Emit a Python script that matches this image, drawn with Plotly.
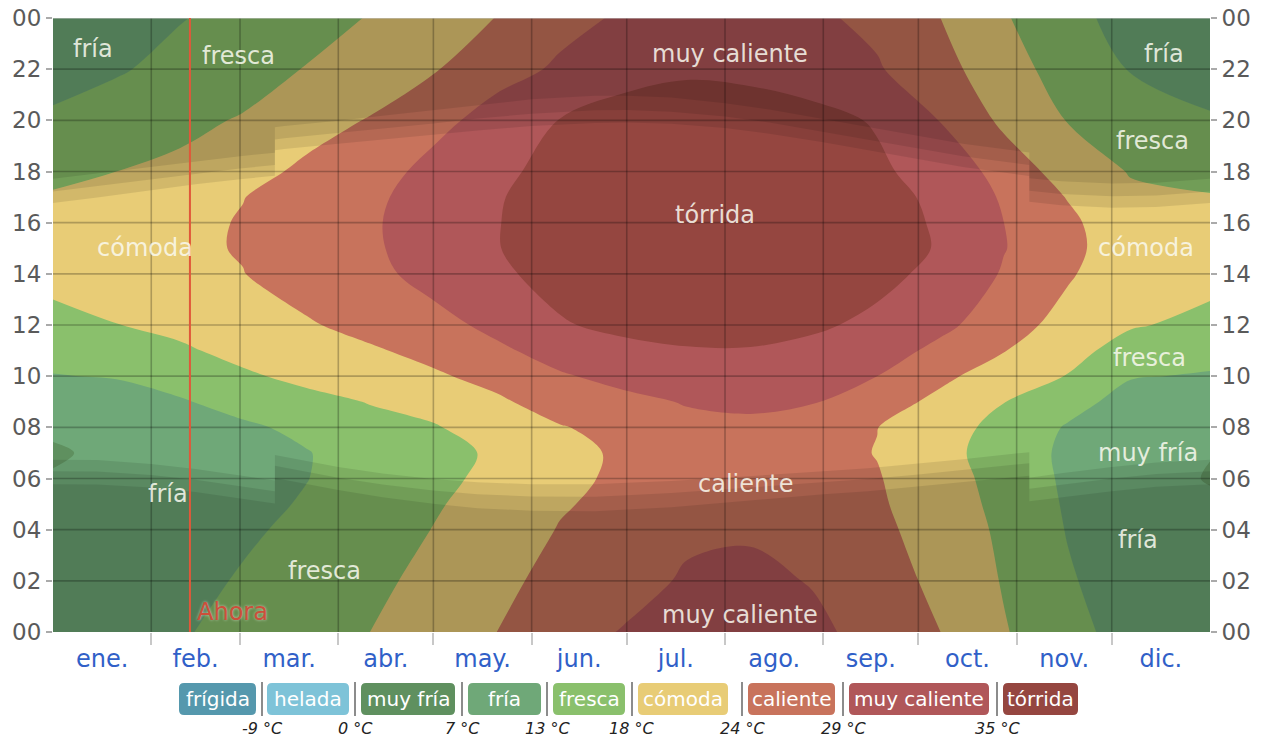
import plotly.graph_objects as go

# ---------------- data ----------------
DAYS = [0, 20, 40, 60, 80, 100, 120, 140, 160, 180, 200, 220, 240, 260, 280, 300, 320, 340, 365]
HOURS = [0, 2, 4, 5, 6, 7, 8, 9, 10, 11, 12, 14, 15, 16, 17, 18, 20, 22, 24]

# temperature (°C) per day column, one value per entry of HOURS
T_D000 = [10.2, 9.0, 8.0, 7.6, 7.2, 6.7, 7.4, 10.0, 12.8, 14.7, 16.5, 19.5, 20.4, 20.2, 18.6, 16.5, 13.5, 11.8, 10.2]
T_D020 = [11.0, 9.8, 8.8, 8.3, 7.9, 7.6, 8.4, 10.9, 13.3, 15.6, 17.9, 20.8, 21.6, 21.4, 20.0, 18.0, 15.0, 12.6, 11.2]
T_D040 = [12.7, 11.3, 10.1, 9.5, 9.0, 8.6, 9.6, 12.6, 14.8, 17.3, 19.2, 22.3, 23.1, 22.8, 21.6, 19.0, 16.8, 14.2, 12.8]
T_D060 = [14.0, 13.5, 12.2, 11.7, 11.2, 10.9, 12.3, 14.6, 17.3, 19.4, 21.4, 23.9, 24.3, 24.3, 23.9, 22.2, 18.4, 15.8, 14.2]
T_D080 = [16.4, 15.3, 14.2, 13.4, 12.9, 12.8, 14.0, 16.6, 19.2, 21.5, 23.5, 26.3, 27.1, 26.9, 26.2, 25.0, 22.0, 18.2, 16.5]
T_D100 = [18.0, 17.0, 16.0, 15.5, 15.1, 15.0, 16.6, 18.2, 20.8, 23.4, 25.6, 27.6, 28.1, 28.3, 27.9, 27.0, 24.3, 21.0, 18.2]
T_D120 = [20.6, 19.2, 18.1, 17.6, 17.2, 17.1, 17.6, 19.8, 23.3, 25.5, 27.3, 30.8, 31.8, 31.8, 31.4, 30.4, 27.6, 23.6, 21.8]
T_D140 = [24.0, 22.4, 20.8, 19.6, 18.8, 18.4, 20.4, 23.2, 25.6, 28.1, 30.3, 34.0, 34.8, 34.8, 34.6, 33.8, 30.8, 27.4, 24.1]
T_D160 = [27.6, 26.0, 24.3, 23.5, 22.8, 22.6, 23.7, 26.3, 28.5, 31.0, 34.5, 37.0, 37.6, 37.6, 37.4, 36.8, 35.2, 29.6, 27.8]
T_D180 = [29.2, 27.7, 26.2, 25.5, 24.9, 24.7, 25.6, 27.8, 30.4, 33.4, 36.4, 38.5, 39.2, 39.2, 39.0, 38.4, 36.8, 33.4, 29.5]
T_D200 = [30.6, 29.4, 28.4, 27.4, 26.8, 26.6, 27.8, 29.3, 32.0, 34.6, 37.0, 39.6, 40.4, 40.4, 40.2, 39.6, 38.0, 34.2, 30.8]
T_D220 = [30.8, 29.8, 28.6, 27.8, 27.2, 27.0, 27.9, 30.0, 32.3, 34.7, 36.9, 39.4, 40.1, 40.0, 39.8, 39.2, 37.4, 33.8, 30.9]
T_D240 = [29.7, 28.8, 27.6, 26.9, 26.3, 26.1, 27.0, 29.2, 31.4, 33.6, 35.8, 38.4, 39.1, 39.0, 38.7, 38.0, 36.4, 32.6, 29.7]
T_D260 = [27.8, 26.6, 25.4, 24.8, 24.4, 23.8, 24.1, 26.6, 29.0, 31.4, 33.8, 36.5, 37.2, 37.0, 36.6, 35.8, 34.6, 29.4, 28.0]
T_D280 = [24.0, 22.6, 21.3, 20.6, 20.0, 19.4, 19.9, 22.6, 25.2, 27.7, 30.2, 33.6, 34.6, 34.4, 34.0, 33.0, 28.8, 26.0, 24.0]
T_D300 = [18.4, 17.6, 17.0, 16.6, 16.3, 16.0, 16.6, 18.1, 21.2, 24.2, 26.2, 28.5, 29.2, 29.0, 28.3, 26.8, 23.0, 20.4, 18.5]
T_D320 = [14.0, 13.5, 12.8, 12.5, 12.2, 12.0, 12.6, 14.8, 17.8, 20.0, 22.2, 24.6, 25.3, 25.0, 23.8, 22.0, 17.8, 15.6, 14.0]
T_D340 = [11.8, 10.6, 9.5, 9.0, 8.5, 8.1, 8.8, 11.2, 13.3, 15.6, 18.5, 20.6, 21.1, 20.8, 19.2, 17.6, 15.0, 12.8, 11.8]
T_D365 = [10.3, 9.0, 8.0, 7.5, 6.8, 7.1, 7.6, 10.0, 12.6, 14.6, 16.6, 19.6, 20.4, 20.2, 18.3, 16.4, 13.3, 11.7, 10.2]

TEMP_COLUMNS = [T_D000, T_D020, T_D040, T_D060, T_D080, T_D100, T_D120, T_D140, T_D160, T_D180,
                T_D200, T_D220, T_D240, T_D260, T_D280, T_D300, T_D320, T_D340, T_D365]

CATEGORIES = ["frígida", "helada", "muy fría", "fría", "fresca", "cómoda", "caliente", "muy caliente", "tórrida"]
THRESHOLDS = [-9, 0, 7, 13, 18, 24, 29, 35]
COLORS = ["#5598ad", "#7ec3d8", "#5f905f", "#6fa878", "#8ac06c", "#e8cc76", "#c8735c", "#b05759", "#954640"]

# sun (local clock hours) for the night shading
SUN_DAY = [0, 14, 31, 45, 59, 70, 70, 73, 90, 104, 120, 134, 151, 171, 181, 195, 212, 226, 243, 257, 273, 287, 308, 308, 318, 334, 348, 365]
SUNRISE = [6.73, 6.72, 6.57, 6.37, 6.12, 5.92, 6.92, 6.83, 6.45, 6.20, 5.98, 5.85, 5.78, 5.78, 5.83, 5.90, 6.02, 6.14, 6.28, 6.40, 6.58, 6.75, 7.03, 6.03, 6.21, 6.45, 6.63, 6.73]
SUNSET = [16.77, 16.98, 17.27, 17.50, 17.70, 17.83, 18.83, 18.88, 19.08, 19.25, 19.43, 19.60, 19.78, 19.90, 19.92, 19.87, 19.70, 19.48, 19.14, 18.83, 18.48, 18.18, 17.82, 16.82, 16.68, 16.58, 16.61, 16.77]
CIVIL = [0.45, 0.45, 0.43, 0.42, 0.42, 0.42, 0.42, 0.42, 0.42, 0.43, 0.45, 0.47, 0.48, 0.49, 0.48, 0.47, 0.45, 0.44, 0.42, 0.42, 0.42, 0.42, 0.43, 0.43, 0.44, 0.45, 0.45, 0.45]
NAUTICAL = [0.50, 0.50, 0.49, 0.48, 0.48, 0.48, 0.48, 0.48, 0.48, 0.50, 0.52, 0.54, 0.56, 0.57, 0.56, 0.55, 0.52, 0.50, 0.48, 0.48, 0.48, 0.48, 0.49, 0.49, 0.50, 0.50, 0.50, 0.50]

MONTHS = ["ene.", "feb.", "mar.", "abr.", "may.", "jun.", "jul.", "ago.", "sep.", "oct.", "nov.", "dic."]
MONTH_START = [0, 31, 59, 90, 120, 151, 181, 212, 243, 273, 304, 334, 365]
HOUR_TICKS = [0, 2, 4, 6, 8, 10, 12, 14, 16, 18, 20, 22, 24]
HOUR_TEXT = ["00", "02", "04", "06", "08", "10", "12", "14", "16", "18", "20", "22", "00"]

NOW_DAY = 43.2

LABELS = [("fría", 12.6, 22.8), ("fresca", 58.4, 22.5), ("muy caliente", 213.6, 22.6),
          ("fría", 350.5, 22.6), ("fresca", 347.0, 19.2), ("tórrida", 208.8, 16.3),
          ("cómoda", 29.0, 15.0), ("cómoda", 344.8, 15.0), ("fresca", 346.0, 10.7),
          ("muy fría", 345.4, 7.0), ("caliente", 218.6, 5.8), ("fría", 36.3, 5.4),
          ("fría", 342.3, 3.6), ("fresca", 85.5, 2.4), ("muy caliente", 216.7, 0.66)]

# ---------------- layout geometry ----------------
W, H = 1261, 740
ML, MT = 53, 18
PW, PH = 1157, 614
MR = W - ML - PW
MB = H - MT - PH
FONT = "DejaVu Sans"


def px(x_page):
    return (x_page - ML) / PW


def py(y_page):
    return (MT + PH - y_page) / PH


z = [[col[i] for col in TEMP_COLUMNS] for i in range(len(HOURS))]

fig = go.Figure()

# stacked filled regions: everything above a threshold gets the next category colour
for k, thr in enumerate(THRESHOLDS):
    fig.add_trace(go.Contour(
        x=DAYS, y=HOURS, z=z,
        contours=dict(type="constraint", operation="<", value=thr),
        fillcolor=COLORS[k + 1],
        line=dict(width=0, smoothing=1.0),
        showscale=False, hoverinfo="skip", showlegend=False,
    ))

# night / twilight shading
offsets = [
    [0.0] * len(SUN_DAY),
    CIVIL,
    [c + n for c, n in zip(CIVIL, NAUTICAL)],
]
for off in offsets:
    eve = [s + o for s, o in zip(SUNSET, off)]
    mor = [r - o for r, o in zip(SUNRISE, off)]
    fig.add_trace(go.Scatter(
        x=SUN_DAY + SUN_DAY[::-1], y=eve + [24] * len(SUN_DAY),
        fill="toself", fillcolor="rgba(0,0,0,0.095)", line=dict(width=0),
        mode="lines", hoverinfo="skip", showlegend=False))
    fig.add_trace(go.Scatter(
        x=SUN_DAY + SUN_DAY[::-1], y=[0] * len(SUN_DAY) + mor[::-1],
        fill="toself", fillcolor="rgba(0,0,0,0.095)", line=dict(width=0),
        mode="lines", hoverinfo="skip", showlegend=False))

# invisible trace to activate right axis
fig.add_trace(go.Scatter(x=[0], y=[0], yaxis="y2", mode="markers",
                         marker=dict(opacity=0), hoverinfo="skip", showlegend=False))

shapes = []
grid_col = "rgba(0,0,0,0.25)"
for d in MONTH_START[1:-1]:
    shapes.append(dict(type="line", xref="x", yref="y", x0=d, x1=d, y0=0, y1=24,
                       line=dict(color=grid_col, width=1.6), layer="above"))
for h in HOUR_TICKS[1:-1]:
    shapes.append(dict(type="line", xref="x", yref="y", x0=0, x1=365, y0=h, y1=h,
                       line=dict(color=grid_col, width=1.6), layer="above"))
shapes.append(dict(type="line", xref="x", yref="y", x0=0, x1=365, y0=24, y1=24,
                   line=dict(color="#c8c8c8", width=1), layer="above"))
shapes.append(dict(type="line", xref="x", yref="y", x0=NOW_DAY, x1=NOW_DAY, y0=0, y1=24,
                   line=dict(color="#e0583a", width=2), layer="above"))

annotations = []
for text, d, h in LABELS:
    annotations.append(dict(x=d, y=h, xref="x", yref="y", text=text, showarrow=False,
                            xanchor="center", yanchor="middle",
                            font=dict(family=FONT, size=24, color="rgba(250,250,240,0.85)")))
annotations.append(dict(x=NOW_DAY + 1.5, y=0.78, xref="x", yref="y", text="Ahora", showarrow=False,
                        xanchor="left", yanchor="middle",
                        font=dict(family=FONT, size=24, color="#cc4f3a",
                                  shadow="0px 0px 3px rgba(255,255,255,0.6)")))

# legend (categories with coloured rounded boxes and thresholds below)
BOX_X = [(179, 256), (267, 349), (361, 455), (468, 541), (553, 625), (638, 728), (748, 835), (849, 989), (1003, 1078)]
SEP_X = [262, 355, 462, 547, 632, 742, 843, 997]
BY0, BY1 = 683, 715
r = 5
for (x0, x1), col, name in zip(BOX_X, COLORS, CATEGORIES):
    X0, X1 = px(x0), px(x1)
    Y0, Y1 = py(BY1), py(BY0)
    rx, ry = r / PW, r / PH
    path = (f"M {X0+rx},{Y0} L {X1-rx},{Y0} Q {X1},{Y0} {X1},{Y0+ry} L {X1},{Y1-ry} "
            f"Q {X1},{Y1} {X1-rx},{Y1} L {X0+rx},{Y1} Q {X0},{Y1} {X0},{Y1-ry} "
            f"L {X0},{Y0+ry} Q {X0},{Y0} {X0+rx},{Y0} Z")
    shapes.append(dict(type="path", xref="paper", yref="paper", path=path,
                       fillcolor=col, line=dict(width=0), layer="above"))
    annotations.append(dict(x=px((x0 + x1) / 2), y=py((BY0 + BY1) / 2), xref="paper", yref="paper",
                            text=name, showarrow=False, xanchor="center", yanchor="middle",
                            font=dict(family=FONT, size=20, color="white")))
for sx, thr in zip(SEP_X, THRESHOLDS):
    shapes.append(dict(type="line", xref="paper", yref="paper", x0=px(sx), x1=px(sx),
                       y0=py(BY1 + 1), y1=py(BY0 - 1), line=dict(color="#666", width=1.5)))
    annotations.append(dict(x=px(sx), y=py(728), xref="paper", yref="paper",
                            text=f"{thr} °C", showarrow=False, xanchor="center", yanchor="middle",
                            font=dict(family=FONT, size=16, color="#222", style="italic")))

month_mid = [(MONTH_START[i] + MONTH_START[i + 1]) / 2 for i in range(12)]

yaxis_common = dict(range=[0, 24], tickmode="array", tickvals=HOUR_TICKS, ticktext=HOUR_TEXT,
                    ticks="outside", ticklen=6, tickcolor="#aaa", tickwidth=1.5,
                    showgrid=False, zeroline=False, showline=False, fixedrange=True,
                    ticklabeloverflow="allow",
                    tickfont=dict(family=FONT, size=23, color="#5a5a5a"), automargin=False)

fig.update_layout(
    width=W, height=H,
    margin=dict(l=ML, r=MR, t=MT, b=MB),
    paper_bgcolor="white",
    plot_bgcolor=COLORS[0],
    showlegend=False,
    xaxis=dict(range=[0, 365], tickmode="array", tickvals=month_mid, ticktext=MONTHS,
               ticks="outside", ticklen=5, tickcolor="rgba(0,0,0,0)",
               minor=dict(tickmode="array", tickvals=MONTH_START[1:-1], ticks="outside",
                          ticklen=12, tickcolor="#c8c8c8", tickwidth=2, showgrid=False),
               showgrid=False, zeroline=False, showline=False, automargin=False,
               fixedrange=True,
               tickfont=dict(family=FONT, size=24, color="#3060c8")),
    yaxis=yaxis_common,
    yaxis2=dict(overlaying="y", side="right", **yaxis_common),
    shapes=shapes,
    annotations=annotations,
)

# remove the page's default body margin so the figure sits at the window's corner
fig.write_html("out.html", config={"displayModeBar": False},
               post_script="document.body.style.margin='0';document.body.style.overflow='hidden';")
